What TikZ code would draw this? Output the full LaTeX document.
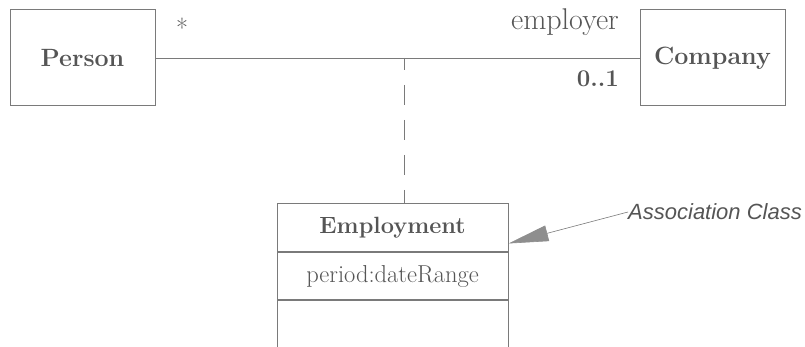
\documentclass[tikz,border=0pt]{standalone}
\usepackage{fontspec}
\newfontfamily\annfont{Liberation Sans}
\usetikzlibrary{arrows.meta}
\definecolor{txt}{HTML}{555555}
\definecolor{ln}{HTML}{7A7A7A}
\begin{document}
\begin{tikzpicture}[x=1pt,y=-1pt,
  classbox/.style={draw=ln,line width=1pt,text=txt,inner sep=0pt,font=\fontsize{25}{28}\selectfont\bfseries},
  comp/.style={draw=ln,line width=1pt,text=txt,inner sep=0pt,minimum width=231pt,font=\fontsize{24.5}{28}\selectfont},
  lbl/.style={text=txt,inner sep=0pt},
  assoc/.style={draw=ln,line width=0.8pt}]
\useasboundingbox (0,0) rectangle (805,347);
\node[classbox,minimum width=145pt,minimum height=96pt] (person) at (82.5,58) {Person};
\node[classbox,minimum width=145pt,minimum height=96pt] (company) at (712.5,58) {Company};
\draw[assoc] (person.east) -- (company.west);
\node[lbl,font=\fontsize{26}{28}\selectfont] (star) at (182,28) {*};
\node[lbl,anchor=east,font=\fontsize{30}{32}\selectfont] (role) at (619,22) {employer};
\node[lbl,anchor=east,font=\fontsize{24}{26}\selectfont\bfseries] (mult) at (619,79) {0..1};
\node[comp,minimum height=48pt,font=\fontsize{23.5}{26}\selectfont\bfseries,anchor=north] (emp) at (392.5,203) {Employment};
\node[comp,minimum height=47pt,anchor=north] (attr) at (emp.south) {period:dateRange};
\node[comp,minimum height=47pt,anchor=north] (ops) at (attr.south) {};
\coordinate (top) at (404,58);
\draw[assoc,dash pattern=on 20pt off 15pt,dash phase=8pt] (top) -- (top |- emp.north);
\node[lbl,anchor=west,font=\annfont\itshape\fontsize{22}{24}\selectfont,text=txt] (note) at (628,212) {Association Class};
\draw[draw=ln,line width=0.6pt,-{Triangle[length=40pt,width=16pt,color=ln!85]}] (note.west) -- ([yshift=-16pt]emp.east);
\end{tikzpicture}
\end{document}
